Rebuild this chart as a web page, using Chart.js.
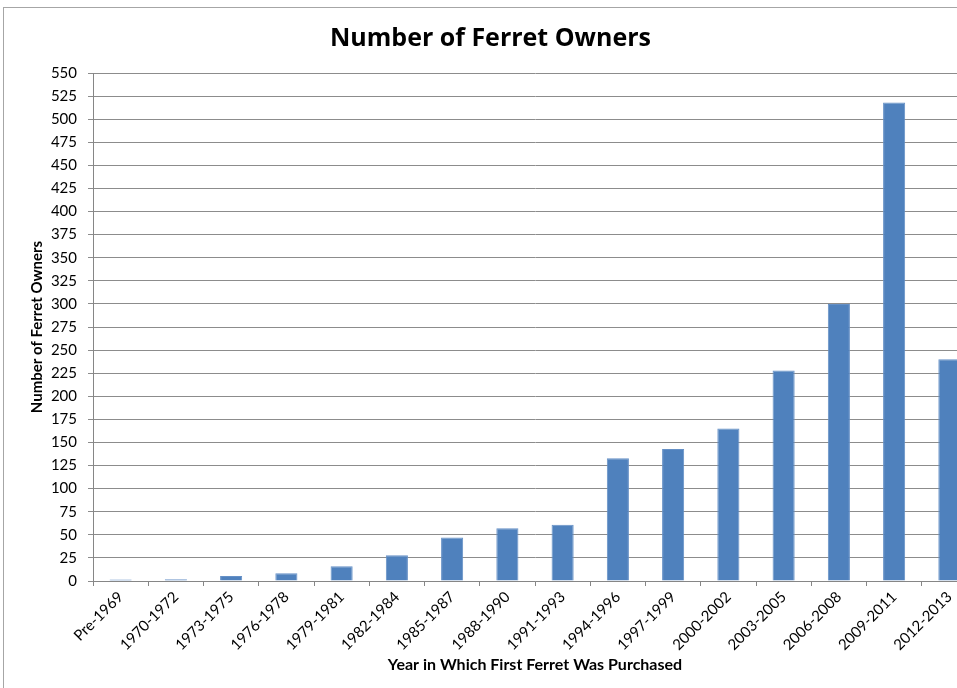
<!DOCTYPE html>
<html>
<head>
<meta charset="utf-8">
<script src="https://cdn.jsdelivr.net/npm/chart.js@4.4.0/dist/chart.umd.min.js"></script>
<style>
  html, body { margin: 0; padding: 0; background: #fff; overflow: hidden; }
  #frame {
    position: absolute; left: 3px; top: 7px;
    width: 995px; height: 700px;
    border: 1px solid #a6a6a6;
  }
  #ferretChart { display: block; }
</style>
</head>
<body>
<div id="frame"><canvas id="ferretChart" width="992" height="690"></canvas></div>
<script>
// Year ranges and owner counts
const yearRanges = ['Pre-1969', '1970-1972', '1973-1975', '1976-1978', '1979-1981', '1982-1984',
    '1985-1987', '1988-1990', '1991-1993', '1994-1996', '1997-1999', '2000-2002',
    '2003-2005', '2006-2008', '2009-2011', '2012-2013'];
const ownerCounts = [1.5, 2, 5.5, 8.5, 16, 28, 47, 57, 61, 133, 143, 165, 228, 300, 518, 240];
const yMin = 0;
const yMax = 550;
const yStep = 25;

document.addEventListener("DOMContentLoaded", function () {
    const ctx = document.getElementById('ferretChart').getContext('2d');
    const canvasH = 690;
    const plotBottom = 573;

    new Chart(ctx, {
        type: 'bar',
        data: {
            labels: yearRanges,
            datasets: [{
                label: 'Number of Ferret Owners',
                data: ownerCounts,
                backgroundColor: '#4F81BD',
                borderColor: '#6590c6',
                borderWidth: 1,
                barPercentage: 0.4,
                categoryPercentage: 1.0
            }]
        },
        options: {
            responsive: false,
            animation: false,
            layout: { padding: { top: 0, right: 19, bottom: 0, left: 0 } },
            plugins: {
                legend: { display: false },
                tooltip: { enabled: false },
                title: {
                    display: true,
                    text: 'Number of Ferret Owners',
                    color: '#000',
                    font: { family: 'Open Sans', size: 25, weight: 'bold', lineHeight: 1.2 },
                    padding: { top: 16, bottom: 19 }
                }
            },
            scales: {
                x: {
                    grid: {
                        offset: true,
                        drawOnChartArea: false,
                        tickLength: 5,
                        color: '#868686'
                    },
                    border: { color: '#868686' },
                    ticks: {
                        autoSkip: false,
                        maxRotation: 45,
                        minRotation: 45,
                        padding: 2,
                        color: '#000',
                        font: { family: 'Lato', size: 15 }
                    },
                    title: {
                        display: true,
                        text: 'Year in Which First Ferret Was Purchased',
                        color: '#000',
                        font: { family: 'Lato', size: 16, weight: 'bold', lineHeight: 1.2 },
                        padding: { top: 0, bottom: 23.4 }
                    },
                    afterFit: function (scale) {
                        scale.height = canvasH - plotBottom;
                    }
                },
                y: {
                    min: yMin,
                    max: yMax,
                    grid: {
                        tickLength: 5,
                        color: '#8c8c8c'
                    },
                    border: { color: '#868686' },
                    ticks: {
                        stepSize: yStep,
                        padding: 11,
                        color: '#000',
                        font: { family: 'Lato', size: 15 }
                    },
                    title: {
                        display: true,
                        text: 'Number of Ferret Owners',
                        color: '#000',
                        font: { family: 'Lato', size: 15, weight: 'bold', lineHeight: 1.2 },
                        padding: { top: 24, bottom: 0 }
                    },
                    afterFit: function (scale) {
                        scale.width = 89;
                    }
                }
            }
        }
    });
});
</script>
</body>
</html>
